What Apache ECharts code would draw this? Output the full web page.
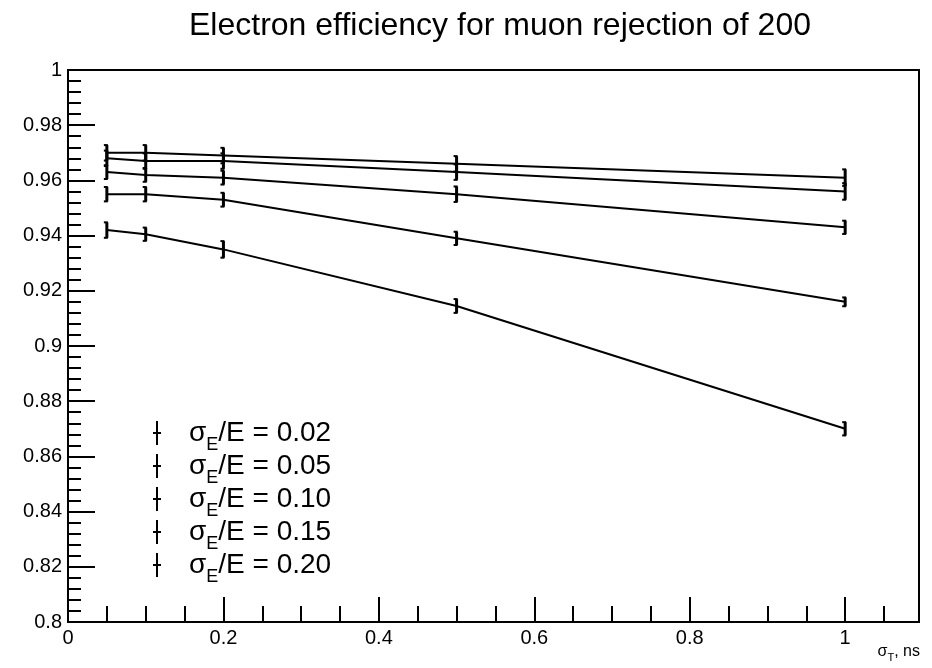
<!DOCTYPE html>
<html>
<head>
<meta charset="utf-8">
<script src="https://cdn.jsdelivr.net/npm/echarts@6/dist/echarts.min.js"></script>
<style>html,body{margin:0;padding:0;background:#fff}#c{width:932px;height:668px}</style>
</head>
<body>
<div id="c"></div>
<script>
const xVals = [0.05, 0.1, 0.2, 0.5, 1.0];
const seriesNames = ['0.02', '0.05', '0.10', '0.15', '0.20'];
const s002 = [0.970, 0.970, 0.969, 0.966, 0.961];
const s005 = [0.968, 0.967, 0.967, 0.963, 0.956];
const s010 = [0.963, 0.962, 0.961, 0.955, 0.943];
const s015 = [0.955, 0.955, 0.953, 0.939, 0.916];
const s020 = [0.942, 0.9405, 0.935, 0.9145, 0.870];
const e002 = [0.0028, 0.0028, 0.0028, 0.0028, 0.0030];
const e005 = [0.0028, 0.0028, 0.0028, 0.0028, 0.0030];
const e010 = [0.0025, 0.0025, 0.0025, 0.0028, 0.0024];
const e015 = [0.0026, 0.0026, 0.0025, 0.0024, 0.0016];
const e020 = [0.0028, 0.0024, 0.0030, 0.0025, 0.0024];
const xTicks = [0, 0.2, 0.4, 0.6, 0.8, 1];

const allY = [s002, s005, s010, s015, s020];
const allE = [e002, e005, e010, e015, e020];

const font = 'Liberation Sans, Arial, Helvetica, sans-serif';
const series = [];
allY.forEach((ys, i) => {
  const name = seriesNames[i];
  series.push({
    name: name, type: 'line', data: xVals.map((x, j) => [x, ys[j]]),
    symbol: 'none', lineStyle: {color: '#000', width: 2}, itemStyle: {color: '#000'}, z: 3
  });
  series.push({
    name: name, type: 'custom',
    data: xVals.map((x, j) => [x, ys[j] - allE[i][j], ys[j] + allE[i][j]]),
    renderItem: function (params, api) {
      const lo = api.coord([api.value(0), api.value(1)]);
      const hi = api.coord([api.value(0), api.value(2)]);
      const x = lo[0];
      const st = {stroke: '#000', lineWidth: 3};
      return {type: 'group', children: [
        {type: 'line', shape: {x1: x, y1: lo[1], x2: x, y2: hi[1]}, style: st},
        {type: 'line', shape: {x1: x - 3, y1: lo[1], x2: x + 1, y2: lo[1]}, style: {stroke: '#000', lineWidth: 2}},
        {type: 'line', shape: {x1: x - 3, y1: hi[1], x2: x + 1, y2: hi[1]}, style: {stroke: '#000', lineWidth: 2}}
      ]};
    },
    z: 4
  });
});

const chart = echarts.init(document.getElementById('c'));
chart.setOption({
  animation: false,
  backgroundColor: '#fff',
  title: {
    text: 'Electron efficiency for muon rejection of 200',
    left: 495, top: 5, textAlign: 'center',
    textStyle: {fontFamily: font, fontSize: 32, fontWeight: 'normal', color: '#000'}
  },
  grid: {left: 68, top: 70, right: 13, bottom: 46, show: true, borderColor: '#000', borderWidth: 2, backgroundColor: 'transparent'},
  legend: {
    orient: 'vertical', left: 148, top: 414, itemGap: -2,
    itemWidth: 10, itemHeight: 24,
    icon: 'path://M4,0h2v24h-2z M1,11h8v2h-8z',
    data: seriesNames,
    formatter: function (n) { return '{g| }{s|σ}{sub|E}{s|/E = ' + n + '}'; },
    textStyle: {
      fontFamily: font, color: '#000',
      rich: {
        g: {width: 22},
        s: {fontFamily: font, fontSize: 28, color: '#000', lineHeight: 42},
        sub: {fontFamily: font, fontSize: 18, color: '#000', verticalAlign: 'bottom', lineHeight: 42}
      }
    }
  },
  xAxis: {
    type: 'value', min: 0, max: 1.095, interval: 0.2,
    axisLine: {show: true, onZero: false, lineStyle: {color: '#000', width: 2}},
    axisTick: {show: true, inside: true, length: 25, lineStyle: {color: '#000', width: 2}},
    minorTick: {show: true, splitNumber: 4, length: 16, lineStyle: {color: '#000', width: 2}},
    splitLine: {show: false},
    axisLabel: {
      showMaxLabel: false, fontFamily: font, fontSize: 20, color: '#000', margin: 6,
      formatter: function (v) { const t = xTicks.find(q => Math.abs(q - v) < 1e-6); return t === undefined ? '' : String(t); }
    }
  },
  yAxis: {
    type: 'value', min: 0.8, max: 1, interval: 0.02,
    axisLine: {show: true, lineStyle: {color: '#000', width: 2}},
    axisTick: {show: true, inside: true, length: 27, lineStyle: {color: '#000', width: 2}},
    minorTick: {show: true, splitNumber: 5, length: 13, lineStyle: {color: '#000', width: 2}},
    splitLine: {show: false},
    axisLabel: {
      fontFamily: font, fontSize: 20, color: '#000', margin: 6,
      formatter: function (v) { return String(Math.round(v * 100) / 100); }
    }
  },
  graphic: [{
    type: 'text', right: 12, top: 644,
    style: {
      text: '{a|σ}{b|T}{a|, ns}',
      rich: {
        a: {fontFamily: font, fontSize: 16, fill: '#000'},
        b: {fontFamily: font, fontSize: 11, fill: '#000', verticalAlign: 'bottom', lineHeight: 22}
      }
    }
  }],
  series: series
});
</script>
</body>
</html>
